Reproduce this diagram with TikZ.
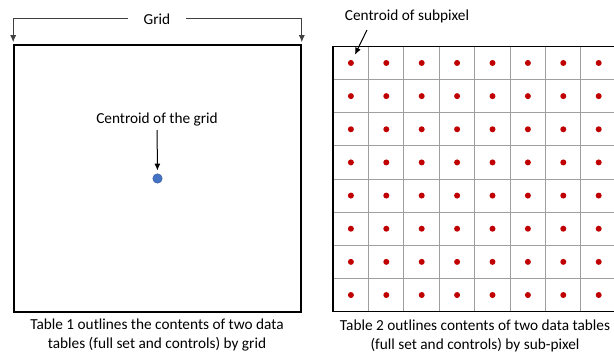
\documentclass[tikz,border=0pt]{standalone}
\usepackage{fontspec}
\setmainfont{Carlito}
\usepackage{xcolor}
\usepackage{tikz}
\usetikzlibrary{arrows.meta,matrix}

\definecolor{subred}{HTML}{C00000}
\definecolor{dotblue}{HTML}{4472C4}
\definecolor{dotrim}{HTML}{2F528F}
\definecolor{inkgray}{HTML}{404040}

\tikzset{
  pointer/.style = {-{Latex[length=7pt,width=6pt]}, line width=1pt},
  bracket/.style = {-{Latex[length=7pt,width=6pt]}, line width=1pt, draw=inkgray},
  subdot/.style = {circle, fill=subred, inner sep=0pt, minimum size=6pt},
  griddot/.style = {circle, draw=dotrim, fill=dotblue, inner sep=0pt, minimum size=9.5pt},
  gridline/.style = {draw=gray!75, line width=0.9pt},
  frame/.style = {line width=1.6pt}
}

\begin{document}
\begin{tikzpicture}[x=1pt, y=1pt, font=\fontsize{15.3}{19}\selectfont]
\useasboundingbox (0,0) rectangle (614,356);

% whole grid
\node[draw, frame, inner sep=0pt, minimum width=287pt, minimum height=267pt] (G) at (157.5,177.5) {};
\node[inner xsep=16pt] (L) at (157,337) {Grid};
\draw[bracket, shorten >=2pt] (L.west) -- (G.north west |- L.west) -- (G.north west);
\draw[bracket, shorten >=2pt] (L.east) -- (G.north east |- L.east) -- (G.north east);

\node (C) at (157,236) {Centroid of the grid};
\node[griddot] (D) at (G.center) {};
\draw[pointer, shorten >=3pt] (C) -- (D);

\node[align=center] (cap1) at (157,20.5)
  {Table 1 outlines the contents of two data\\ tables (full set and controls) by grid};

% sub-pixels
\begin{scope}[shift={(333,44.4)}]
\draw[gridline, xstep=35.4, ystep=33.15] (0,0) grid (283.3,265.2);
\draw[frame] (0,0) rectangle (283.3,265.2);
\end{scope}

\matrix (S)
[matrix of nodes,
 nodes in empty cells,
 ampersand replacement = \&,
 nodes = {subdot},
 column sep = 29.4pt,
 row sep = 27.15pt]
at (474.8,177)
{
 \& \& \& \& \& \& \& \\
 \& \& \& \& \& \& \& \\
 \& \& \& \& \& \& \& \\
 \& \& \& \& \& \& \& \\
 \& \& \& \& \& \& \& \\
 \& \& \& \& \& \& \& \\
 \& \& \& \& \& \& \& \\
 \& \& \& \& \& \& \& \\
};

\node (T) at (407,340) {Centroid of subpixel};
\coordinate (tail) at (367,326);
\draw[pointer, shorten >=6pt] (tail) -- (S-1-1);

\node[align=center] (cap2) at (475,20.5)
  {Table 2 outlines contents of two data tables\\ (full set and controls) by sub-pixel};

\end{tikzpicture}
\end{document}
